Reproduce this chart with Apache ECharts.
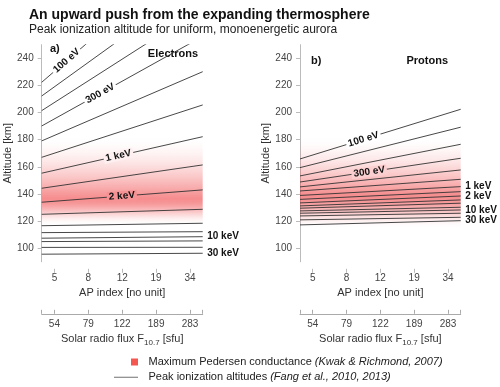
<!DOCTYPE html>
<html>
<head>
<meta charset="utf-8">
<script src="https://cdn.jsdelivr.net/npm/echarts@6/dist/echarts.min.js"></script>
<style>
html, body { margin: 0; padding: 0; background: #fff; }
#chart { width: 500px; height: 387px; }
</style>
</head>
<body>
<div id="chart"></div>
<script>
// values
var apTicks = [5, 8, 12, 19, 34];
var f107Ticks = [54, 79, 122, 189, 283];
var altTicks = [100, 120, 140, 160, 180, 200, 220, 240];
var energies = ['100 eV', '150 eV', '200 eV', '300 eV', '500 eV', '700 eV', '1 keV', '1.5 keV',
  '2 keV', '3 keV', '5 keV', '7 keV', '10 keV', '15 keV', '20 keV', '30 keV'];
// peak ionization altitude [km] at the quiet (left) and active (right) end
var electronLow = [222.3, 212.2, 201.4, 190.1, 179.1, 167.0, 155.3, 144.2, 133.9, 125.0, 116.6, 111.5, 107.4, 104.9, 100.6, 95.6];
var electronHigh = [324.7, 297.7, 277.3, 256.1, 230.1, 205.6, 182.2, 161.4, 143.0, 128.7, 118.4, 112.2, 108.5, 105.4, 100.7, 96.3];
var protonLow = [165.8, 159.4, 153.3, 148.8, 145.2, 142.2, 138.9, 136.0, 133.4, 131.2, 129.5, 127.5, 125.8, 123.8, 120.9, 117.2];
var protonHigh = [202.4, 189.2, 176.6, 166.3, 157.7, 150.8, 145.4, 141.7, 138.5, 135.6, 133.2, 130.2, 128.2, 125.8, 122.8, 120.3];
// max Pedersen conductance band [top, peak, bottom] km
var electronBand = [182, 137, 117];
var protonBand = [182, 139, 115];
// labels: [line index, x position in tick units]
var electronInline = [[0, 1.36], [3, 2.35], [6, 2.89], [8, 2.99]];
var protonInline = [[0, 2.50], [3, 2.67]];
var electronEdge = [12, 15];
var protonEdge = [6, 8, 12, 15];

var FONT = "'Liberation Sans', Arial, sans-serif";
var xMin = 0.625, xMax = 5.375, yMin = 90, yMax = 250;
var gridTop = 44.7, gridH = 217.1;
var grids = [{ left: 41.7, width: 161 }, { left: 300, width: 160.7 }];
var peakRGB = [240, 70, 72], peakAlpha = 0.62;

function bandAlpha(band, alt) {
  var t;
  if (alt >= band[1]) {
    t = (band[0] - alt) / (band[0] - band[1]);
    t = Math.max(0, Math.min(1, t));
    return peakAlpha * Math.pow(t, 1.7);
  }
  t = (alt - band[2]) / (band[1] - band[2]);
  t = Math.max(0, Math.min(1, t));
  return peakAlpha * t * t * (3 - 2 * t);
}
function blend(a) {
  return 'rgb(' + peakRGB.map(function (c) { return Math.round(255 - a * (255 - c)); }).join(',') + ')';
}
function bandGradient(band) {
  var stops = [];
  for (var i = 0; i <= 30; i++) {
    var alt = band[0] - (band[0] - band[2]) * i / 30;
    stops.push({ offset: i / 30, color: 'rgba(' + peakRGB.join(',') + ',' + bandAlpha(band, alt).toFixed(3) + ')' });
  }
  return new echarts.graphic.LinearGradient(0, 0, 0, 1, stops);
}

function panelSeries(gi, low, high, band, inline, edge) {
  var out = [{
    type: 'line', xAxisIndex: gi * 2, yAxisIndex: gi, data: [], z: 1, silent: true,
    markArea: { silent: true, itemStyle: { color: bandGradient(band) },
      data: [[{ yAxis: band[0] }, { yAxis: band[2] }]] }
  }];
  var w = grids[gi].width, pxKm = gridH / (yMax - yMin);
  low.forEach(function (lo, i) {
    var hi = high[i];
    var endItem = { value: [xMax, hi] };
    if (edge.indexOf(i) >= 0) {
      endItem.label = { show: true, position: 'right', distance: 4, formatter: energies[i],
        fontFamily: FONT, fontSize: 10, fontWeight: 'bold', color: '#111' };
    }
    var s = {
      type: 'line', name: energies[i], xAxisIndex: gi * 2, yAxisIndex: gi, z: 3, silent: true,
      clip: true, symbol: 'circle', symbolSize: 1, showSymbol: true,
      itemStyle: { color: 'rgba(0,0,0,0)' },
      lineStyle: { color: '#333', width: 0.9 },
      data: [[xMin, lo], endItem]
    };
    inline.forEach(function (lab) {
      if (lab[0] !== i) return;
      var y = lo + (hi - lo) * (lab[1] - xMin) / (xMax - xMin);
      var ang = Math.atan((hi - lo) * pxKm / w) * 180 / Math.PI;
      s.markPoint = {
        silent: true, symbol: 'circle', symbolSize: 1, itemStyle: { color: 'rgba(0,0,0,0)' },
        data: [{ coord: [lab[1], y] }],
        label: { show: true, position: 'inside', formatter: energies[i], rotate: ang,
          fontFamily: FONT, fontSize: 10, fontWeight: 'bold', color: '#111',
          backgroundColor: blend(bandAlpha(band, y)), padding: [0, 2] }
      };
    });
    out.push(s);
  });
  return out;
}

function xAxes(gi) {
  return [{
    gridIndex: gi, type: 'value', min: xMin, max: xMax, position: 'bottom', offset: 7,
    axisLine: { show: false }, splitLine: { show: false },
    axisTick: { show: true, length: 4, customValues: [1, 2, 3, 4, 5], lineStyle: { color: '#bbb' } },
    axisLabel: { customValues: [1, 2, 3, 4, 5], margin: 4, fontFamily: FONT, fontSize: 10, color: '#444',
      formatter: function (v) { return apTicks[Math.round(v) - 1]; } },
    name: 'AP index [no unit]', nameLocation: 'middle', nameGap: 14,
    nameTextStyle: { fontFamily: FONT, fontSize: 11, color: '#333' }
  }, {
    gridIndex: gi, type: 'value', min: xMin, max: xMax, position: 'bottom', offset: 52,
    axisLine: { show: true, lineStyle: { color: '#aaa' } }, splitLine: { show: false },
    axisTick: { show: true, inside: true, length: 4, customValues: [xMin, 1, 2, 3, 4, 5, xMax], lineStyle: { color: '#aaa' } },
    axisLabel: { customValues: [1, 2, 3, 4, 5], margin: 5, fontFamily: FONT, fontSize: 10, color: '#444',
      formatter: function (v) { return f107Ticks[Math.round(v) - 1]; } },
    name: 'Solar radio flux F{sub|10.7} [sfu]', nameLocation: 'middle', nameGap: 17,
    nameTextStyle: { fontFamily: FONT, fontSize: 11, color: '#333',
      rich: { sub: { fontFamily: FONT, fontSize: 8, color: '#333', padding: [8, 0, 0, 0] } } }
  }];
}

function yAxis(gi) {
  return {
    gridIndex: gi, type: 'value', min: yMin, max: yMax,
    axisLine: { show: true, lineStyle: { color: '#bbb' } }, splitLine: { show: false },
    axisTick: { show: true, length: 4, customValues: altTicks, lineStyle: { color: '#bbb' } },
    axisLabel: { customValues: altTicks, margin: 8, fontFamily: FONT, fontSize: 10, color: '#444' },
    name: 'Altitude [km]', nameLocation: 'middle', nameGap: 24,
    nameTextStyle: { fontFamily: FONT, fontSize: 11, color: '#333' }
  };
}

var chart = echarts.init(document.getElementById('chart'));
var option = {
  animation: false,
  title: {
    left: 24, top: 3, itemGap: 2,
    text: 'An upward push from the expanding thermosphere',
    textStyle: { fontFamily: FONT, fontSize: 14, fontWeight: 'bold', color: '#111' },
    subtext: 'Peak ionization altitude for uniform, monoenergetic aurora',
    subtextStyle: { fontFamily: FONT, fontSize: 12, color: '#222' }
  },
  grid: grids.map(function (g) { return { left: g.left, top: gridTop, width: g.width, height: gridH }; }),
  xAxis: xAxes(0).concat(xAxes(1)),
  yAxis: [yAxis(0), yAxis(1)],
  series: panelSeries(0, electronLow, electronHigh, electronBand, electronInline, electronEdge)
    .concat(panelSeries(1, protonLow, protonHigh, protonBand, protonInline, protonEdge)),
  graphic: [
    { type: 'text', x: 50, y: 49, style: { text: 'a)', font: 'bold 11px ' + FONT, fill: '#111', textAlign: 'left', textVerticalAlign: 'middle' } },
    { type: 'text', x: 198, y: 54, style: { text: 'Electrons', font: 'bold 11px ' + FONT, fill: '#111', textAlign: 'right', textVerticalAlign: 'middle' } },
    { type: 'text', x: 311, y: 61, style: { text: 'b)', font: 'bold 11px ' + FONT, fill: '#111', textAlign: 'left', textVerticalAlign: 'middle' } },
    { type: 'text', x: 448, y: 61, style: { text: 'Protons', font: 'bold 11px ' + FONT, fill: '#111', textAlign: 'right', textVerticalAlign: 'middle' } },
    { type: 'rect', shape: { x: 131, y: 358.5, width: 7, height: 7 }, style: { fill: '#f4574f' } },
    { type: 'line', shape: { x1: 114, y1: 377.3, x2: 138, y2: 377.3 }, style: { stroke: '#888', lineWidth: 1.2 } },
    { type: 'text', x: 148.5, y: 362, style: { text: 'Maximum Pedersen conductance {i|(Kwak & Richmond, 2007)}',
      font: '11px ' + FONT, fill: '#222', textAlign: 'left', textVerticalAlign: 'middle',
      rich: { i: { fontFamily: FONT, fontSize: 11, fontStyle: 'italic', fill: '#222' } } } },
    { type: 'text', x: 148.5, y: 377.3, style: { text: 'Peak ionization altitudes {i|(Fang et al., 2010, 2013)}',
      font: '11px ' + FONT, fill: '#222', textAlign: 'left', textVerticalAlign: 'middle',
      rich: { i: { fontFamily: FONT, fontSize: 11, fontStyle: 'italic', fill: '#222' } } } }
  ]
};
chart.setOption(option);
</script>
</body>
</html>
